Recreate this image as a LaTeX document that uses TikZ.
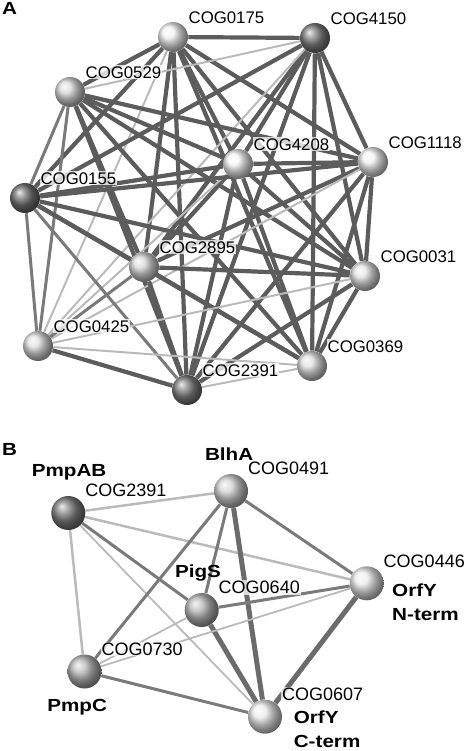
\documentclass[tikz,border=0pt]{standalone}
\usepackage{fontspec}
\setmainfont{Liberation Sans}
\newfontfamily\boldlab{Liberation Sans}[FakeStretch=1.18,BoldFeatures={FakeStretch=1.18}]
\usepackage{tikz}
\usetikzlibrary{positioning,backgrounds}

\begin{document}
\begin{tikzpicture}[x=1pt,y=-1pt,semithick]
\tikzstyle{cog}=[circle,inner sep=0pt,minimum size=30pt,shading=ball]
\tikzstyle{lab}=[inner sep=1pt,fill=white,fill opacity=.75,text opacity=1,font=\fontsize{16.8}{19}\selectfont]
\tikzstyle{blab}=[inner sep=1pt,font=\boldlab\bfseries\fontsize{17.5}{20}\selectfont]
\tikzstyle{strong}=[draw=black!64,line width=4.2pt]
\tikzstyle{mid}=[draw=black!52,line width=3pt]
\tikzstyle{weak}=[draw=black!27,line width=2pt]

\useasboundingbox (0,0) rectangle (466,751);

%% panel A
\node[blab,anchor=base west] (A) at (0.7,15) {A};

\node[cog,ball color=gray!10]  (0175) at (173,37)  {};
\node[cog,ball color=black!50] (4150) at (315,38)  {};
\node[cog,ball color=gray!30]  (0529) at (70,92)   {};
\node[cog,ball color=gray!8]   (4208) at (238,164) {};
\node[cog,ball color=gray!10]  (1118) at (373,162) {};
\node[cog,ball color=black!55] (0155) at (25,198)  {};
\node[cog,ball color=gray!30]  (2895) at (144,267) {};
\node[cog,ball color=gray!20]  (0031) at (365,276) {};
\node[cog,ball color=gray!25]  (0425) at (38,346)  {};
\node[cog,ball color=gray!25]  (0369) at (312,366) {};
\node[cog,ball color=black!50] (2391) at (187,390) {};

\node[lab] (p0175) [above right=3pt and 3.5pt of 0175,anchor=base west] {COG0175};
\node[lab] (p4150) [above right=3pt and 3.5pt of 4150,anchor=base west] {COG4150};
\node[lab] (p0529) [above right=3pt and 3.5pt of 0529,anchor=base west] {COG0529};
\node[lab] (p4208) [above right=3pt and 3.5pt of 4208,anchor=base west] {COG4208};
\node[lab] (p1118) [above right=3pt and 3.5pt of 1118,anchor=base west] {COG1118};
\node[lab] (p0155) [above right=3pt and 3.5pt of 0155,anchor=base west] {COG0155};
\node[lab] (p2895) [above right=3pt and 3.5pt of 2895,anchor=base west] {COG2895};
\node[lab] (p0031) [above right=3pt and 3.5pt of 0031,anchor=base west] {COG0031};
\node[lab] (p0425) [above right=3pt and 3.5pt of 0425,anchor=base west] {COG0425};
\node[lab] (p0369) [above right=3pt and 3.5pt of 0369,anchor=base west] {COG0369};
\node[lab] (p2391) [above right=3pt and 3.5pt of 2391,anchor=base west] {COG2391};

\begin{scope}[on background layer]
\path
(0175) edge[strong] (4150)
(0175) edge[strong] (0529)
(0175) edge[strong] (4208)
(0175) edge[strong] (1118)
(0175) edge[strong] (0155)
(0175) edge[strong] (2895)
(0175) edge[strong] (0031)
(0175) edge[weak]   (0425)
(0175) edge[strong] (0369)
(0175) edge[strong] (2391)
(4150) edge[weak]   (0529)
(4150) edge[strong] (4208)
(4150) edge[strong] (1118)
(4150) edge[strong] (0155)
(4150) edge[strong] (2895)
(4150) edge[strong] (0031)
(4150) edge[weak]   (0425)
(4150) edge[strong] (0369)
(4150) edge[strong] (2391)
(0529) edge[strong] (4208)
(0529) edge[strong] (1118)
(0529) edge[mid]    (0155)
(0529) edge[strong] (2895)
(0529) edge[strong] (0031)
(0529) edge[mid]    (0425)
(0529) edge[strong] (0369)
(0529) edge[strong] (2391)
(4208) edge[strong] (1118)
(4208) edge[strong] (0155)
(4208) edge[strong] (2895)
(4208) edge[strong] (0031)
(4208) edge[weak]   (0425)
(4208) edge[strong] (0369)
(4208) edge[strong] (2391)
(1118) edge[strong] (0155)
(1118) edge[strong] (2895)
(1118) edge[strong] (0031)
(1118) edge[weak]   (0425)
(1118) edge[strong] (0369)
(1118) edge[strong] (2391)
(0155) edge[strong] (2895)
(0155) edge[strong] (0031)
(0155) edge[mid]    (0425)
(0155) edge[strong] (0369)
(0155) edge[mid]    (2391)
(2895) edge[strong] (0031)
(2895) edge[mid]    (0425)
(2895) edge[strong] (0369)
(2895) edge[strong] (2391)
(0031) edge[weak]   (0425)
(0031) edge[strong] (0369)
(0031) edge[strong] (2391)
(0425) edge[weak]   (0369)
(0425) edge[strong] (2391)
(0369) edge[weak]   (2391)
; %end path
\end{scope}

%% panel B
\begin{scope}[cog/.append style={minimum size=34pt},
              lab/.append style={font=\fontsize{18}{20}\selectfont},
              strong/.append style={draw=black!58,line width=5pt},
              weak/.append style={line width=2.5pt}]
\node[blab,anchor=base west] (B) at (0.7,455) {B};

\node[cog,ball color=black!50] (2391b) at (68.3,513) {};
\node[cog,ball color=gray!35]  (0491)  at (231,491)  {};
\node[cog,ball color=gray!55]  (0640)  at (201.7,610) {};
\node[cog,ball color=gray!15]  (0446)  at (366.7,583.3) {};
\node[cog,ball color=gray!55]  (0730)  at (84.5,671.5) {};
\node[cog,ball color=gray!15]  (0607)  at (265,716.7) {};

\node[lab] (p2391b) [above right=4pt and 3.5pt of 2391b,anchor=base west] {COG2391};
\node[lab] (p0491)  [above right=4pt and 3.5pt of 0491,anchor=base west]  {COG0491};
\node[lab] (p0640)  [above right=4pt and 3.5pt of 0640,anchor=base west]  {COG0640};
\node[lab] (p0446)  [above right=4pt and 3.5pt of 0446,anchor=base west]  {COG0446};
\node[lab] (p0730)  [above right=4pt and 3.5pt of 0730,anchor=base west]  {COG0730};
\node[lab] (p0607)  [above right=4pt and 3.5pt of 0607,anchor=base west]  {COG0607};

\node[blab] (n2391b) [above left=24pt and 25.6pt of 2391b,anchor=base west] {PmpAB};
\node[blab] (n0491)  [above left=18.3pt and 15pt of 0491,anchor=base west]  {BlhA};
\node[blab] (n0640)  [above left=20.5pt and 15.7pt of 0640,anchor=base west] {PigS};
\node[blab] (n0730)  [below left=28.2pt and 26.2pt of 0730,anchor=base west] {PmpC};
\node[blab] (n0446)  [below right=1.4pt and 12pt of 0446,anchor=base west]  {OrfY};
\node[blab,anchor=base west,yshift=-23.3pt] (t0446) at (n0446.base west) {N-term};
\node[blab] (n0607)  [below right=-5.7pt and 15.3pt of 0607,anchor=base west] {OrfY};
\node[blab,anchor=base west,yshift=-24.5pt] (t0607) at (n0607.base west) {C-term};

\begin{scope}[on background layer]
\path
(2391b) edge[weak]   (0491)
(2391b) edge[mid]    (0640)
(2391b) edge[weak]   (0446)
(2391b) edge[weak]   (0730)
(2391b) edge[weak,line width=1.8pt] (0607)
(0491)  edge[mid]    (0640)
(0491)  edge[mid]    (0446)
(0491)  edge[mid]    (0730)
(0491)  edge[strong] (0607)
(0640)  edge[mid]    (0446)
(0640)  edge[weak,line width=1.8pt] (0730)
(0640)  edge[strong] (0607)
(0446)  edge[weak,line width=1.8pt] (0730)
(0446)  edge[strong] (0607)
(0730)  edge[mid]    (0607)
; %end path
\end{scope}
\end{scope}

\end{tikzpicture}
\end{document}
